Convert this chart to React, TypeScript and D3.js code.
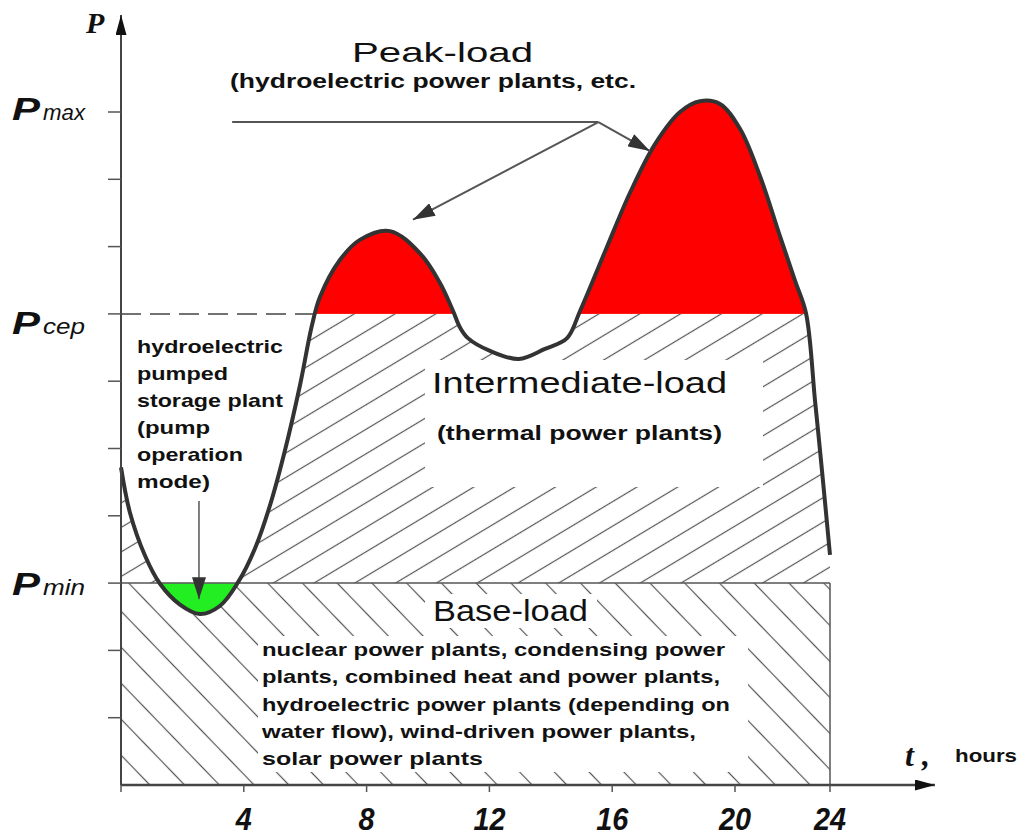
import React from "react";
import * as d3 from "d3";

// daily load curve: hour of day -> power (relative units)
const hours = [0, 0.29, 0.78, 1.27, 1.92, 2.57, 3.22, 3.81, 4.36, 4.85, 5.34, 5.83, 6.22, 6.48, 7.13, 7.78, 8.76, 9.74, 10.39, 10.81, 11.04, 11.3, 12.02, 12.96, 13.81, 14.53, 14.95, 15.77, 16.58, 17.39, 18.21, 18.86, 19.51, 20.21, 21.05, 21.89, 22.53, 22.99, 23.37, 23.66, 24];
const load = [4.72, 4.05, 3.41, 2.99, 2.68, 2.54, 2.66, 3.01, 3.51, 4.15, 4.97, 5.94, 6.83, 7.25, 7.8, 8.1, 8.23, 7.9, 7.46, 7.05, 6.8, 6.64, 6.45, 6.33, 6.48, 6.64, 7.04, 7.93, 8.8, 9.52, 10.0, 10.16, 10.12, 9.75, 9.05, 8.16, 7.49, 7.01, 5.71, 4.68, 3.42];

const P_MIN = 3;
const P_CEP = 7;
const P_MAX = 10;

const xTicks = [0, 4, 8, 12, 16, 20, 24];
const xTickLabels = ["", "4", "8", "12", "16", "20", "24"];
const yTicks = [1, 2, 3, 4, 5, 6, 7, 8, 9, 10];
const levelNames = ["max", "cep", "min"];
const levelValues = [P_MAX, P_CEP, P_MIN];

const peakLines = ["Peak-load", "(hydroelectric power plants, etc."];
const intermediateLines = ["Intermediate-load", "(thermal power plants)"];
const pumpLines = ["hydroelectric", "pumped", "storage plant", "(pump", "operation", "mode)"];
const baseLines = [
  "Base-load",
  "nuclear power plants, condensing power",
  "plants, combined heat and power plants,",
  "hydroelectric power plants (depending on",
  "water flow), wind-driven power plants,",
  "solar power plants",
];

const W = 1024;
const H = 837;
const SANS = "'Liberation Sans', Arial, sans-serif";
const SERIF = "'Liberation Serif', 'Times New Roman', serif";
const INK = "#333";

// the original drawing is slightly stretched, so the hour axis is not uniform
const x = d3.scaleLinear().domain([0, 20, 24]).range([121, 735, 830]);
const y = d3.scaleLinear().domain([0, 10]).range([785, 112]);

const pts: [number, number][] = hours.map((h, i) => [h, load[i]]);
const curve = d3.curveCatmullRom.alpha(0.5);

const linePath = d3.line<[number, number]>().x((d) => x(d[0])).y((d) => y(d[1])).curve(curve)(pts) || "";
const underPath = d3.area<[number, number]>().x((d) => x(d[0])).y0(y(0)).y1((d) => y(d[1])).curve(curve)(pts) || "";
const overPath = d3.area<[number, number]>().x((d) => x(d[0])).y0(0).y1((d) => y(d[1])).curve(curve)(pts) || "";

// first hour where the load climbs over P_cep (end of the dashed line)
let cepCross = 0;
for (let i = 1; i < hours.length; i++) {
  if (load[i - 1] < P_CEP && load[i] >= P_CEP) {
    const f = (P_CEP - load[i - 1]) / (load[i] - load[i - 1]);
    cepCross = hours[i - 1] + f * (hours[i] - hours[i - 1]);
    break;
  }
}

type Txt = { s: string; x: number; y: number; w: number; size: number; bold?: boolean };

const T = ({ s, x, y, w, size, bold }: Txt) => (
  <text
    x={x}
    y={y}
    textLength={w}
    lengthAdjust="spacingAndGlyphs"
    fontFamily={SANS}
    fontSize={size}
    fontWeight={bold ? "bold" : "normal"}
    fill="#111"
  >
    {s}
  </text>
);

export default function App() {
  const x0 = x(0);
  const x24 = x(24);
  const yMin = y(P_MIN);
  const yCep = y(P_CEP);
  const y0 = y(0);

  const hub: [number, number] = [x(15.55), y(9.85)];

  return (
    <svg width={W} height={H} style={{ position: "absolute", left: 0, top: 0, background: "#fff" }}>
      <defs>
        <clipPath id="under">
          <path d={underPath} />
        </clipPath>
        <clipPath id="over">
          <path d={overPath} />
        </clipPath>
        <pattern id="baseHatch" width={25} height={25} patternUnits="userSpaceOnUse" patternTransform="rotate(-44)">
          <line x1={12.5} y1={0} x2={12.5} y2={25} stroke="#555" strokeWidth={1.2} />
        </pattern>
        <pattern id="midHatch" width={21} height={21} patternUnits="userSpaceOnUse" patternTransform="rotate(59)">
          <line x1={10.5} y1={0} x2={10.5} y2={21} stroke="#555" strokeWidth={1.2} />
        </pattern>
        <marker id="head" viewBox="0 0 10 10" refX={10} refY={5} markerWidth={22} markerHeight={14}
          markerUnits="userSpaceOnUse" orient="auto" preserveAspectRatio="none">
          <path d="M0,0 L10,5 L0,10 z" fill={INK} />
        </marker>
        <marker id="axisHead" viewBox="0 0 10 10" refX={10} refY={5} markerWidth={20} markerHeight={11}
          markerUnits="userSpaceOnUse" orient="auto" preserveAspectRatio="none">
          <path d="M0,0 L10,5 L0,10 z" fill="#111" />
        </marker>
      </defs>

      {/* load zones */}
      <g clipPath="url(#under)">
        <rect x={x0} y={0} width={x24 - x0} height={yCep} fill="#ff0000" />
        <rect x={x0} y={yCep} width={x24 - x0} height={yMin - yCep} fill="url(#midHatch)" />
        <rect x={x0} y={yMin} width={x24 - x0} height={y0 - yMin} fill="url(#baseHatch)" />
      </g>
      <g clipPath="url(#over)">
        <rect x={x0} y={yMin} width={x24 - x0} height={y0 - yMin} fill="#22ee22" />
      </g>

      {/* white boxes behind the zone texts */}
      <rect x={425} y={360} width={338} height={127} fill="#fff" />
      <rect x={425} y={594} width={172} height={34} fill="#fff" />
      <rect x={258} y={636} width={490} height={136} fill="#fff" />

      {/* level lines */}
      <line x1={x0} x2={x24} y1={yMin} y2={yMin} stroke="#555" strokeWidth={1.5} />
      <line x1={x0} x2={x(cepCross)} y1={yCep} y2={yCep} stroke="#444" strokeWidth={1.5} strokeDasharray="20 9" />
      <line x1={x24} x2={x24} y1={yMin} y2={y0} stroke="#555" strokeWidth={1.5} />

      {/* load curve */}
      <path d={linePath} fill="none" stroke={INK} strokeWidth={4} strokeLinejoin="round" />

      {/* axes */}
      <line x1={x0} x2={x0} y1={y0} y2={15} stroke="#444" strokeWidth={2} markerEnd="url(#axisHead)" />
      <line x1={x0} x2={935} y1={y0} y2={y0} stroke="#444" strokeWidth={2.5} markerEnd="url(#axisHead)" />
      {yTicks.map((t) => (
        <line key={t} x1={x0 - 13} x2={x0} y1={y(t)} y2={y(t)} stroke="#555" strokeWidth={1.5} />
      ))}
      {xTicks.map((t, i) => (
        <g key={t}>
          <line x1={x(t)} x2={x(t)} y1={y0} y2={y0 + 7} stroke="#555" strokeWidth={1.5} />
          {xTickLabels[i] && (
            <text x={x(t)} y={830} textAnchor="middle" fontFamily={SANS} fontStyle="italic"
              fontWeight="bold" fontSize={32} fill="#111"
              textLength={xTickLabels[i].length * 16} lengthAdjust="spacingAndGlyphs">
              {xTickLabels[i]}
            </text>
          )}
        </g>
      ))}
      <text x={86} y={33} fontFamily={SERIF} fontStyle="italic" fontWeight="bold" fontSize={30} fill="#111">P</text>
      <text x={905} y={766} fontFamily={SERIF} fontStyle="italic" fontWeight="bold" fontSize={32} fill="#111">t ,</text>
      <text x={955} y={762} fontFamily={SANS} fontSize={19} fontWeight="bold" fill="#111"
        textLength={62} lengthAdjust="spacingAndGlyphs">hours</text>

      {/* P levels */}
      {levelNames.map((n, i) => {
        const dy = [8, 20, 12][i];
        return (
          <g key={n}>
            <text x={12} y={y(levelValues[i]) + dy} fontFamily={SANS} fontStyle="italic" fontWeight="bold"
              fontSize={31} fill="#111" textLength={28} lengthAdjust="spacingAndGlyphs">P</text>
            <text x={43} y={y(levelValues[i]) + dy} fontFamily={SANS} fontStyle="italic"
              fontSize={22} fill="#111" textLength={42} lengthAdjust="spacingAndGlyphs">{n}</text>
          </g>
        );
      })}

      {/* peak-load pointers */}
      <line x1={x(3.62)} y1={hub[1]} x2={hub[0]} y2={hub[1]} stroke="#555" strokeWidth={2} />
      <line x1={hub[0]} y1={hub[1]} x2={x(17.23)} y2={y(9.42)} stroke="#555" strokeWidth={2} markerEnd="url(#head)" />
      <line x1={hub[0]} y1={hub[1]} x2={x(9.51)} y2={y(8.4)} stroke="#555" strokeWidth={2} markerEnd="url(#head)" />

      {/* pumped storage pointer */}
      <line x1={x(2.54)} y1={y(4.22)} x2={x(2.54)} y2={y(2.76)} stroke="#555" strokeWidth={1.5} markerEnd="url(#head)" />

      {/* texts */}
      <T s={peakLines[0]} x={352} y={62} w={181} size={28} />
      <T s={peakLines[1]} x={230} y={88} w={406} size={20} bold />
      <T s={intermediateLines[0]} x={432} y={393} w={295} size={29} />
      <T s={intermediateLines[1]} x={437} y={440} w={285} size={20} bold />
      {pumpLines.map((s, i) => (
        <T key={s} s={s} x={137} y={353 + i * 27} w={[146, 91, 146, 73, 106, 73][i]} size={19} bold />
      ))}
      <T s={baseLines[0]} x={433} y={621} w={155} size={29} />
      {baseLines.slice(1).map((s, i) => (
        <T key={s} s={s} x={262} y={656 + i * 27.3} w={[463, 458, 468, 434, 221][i]} size={19} bold />
      ))}
    </svg>
  );
}
